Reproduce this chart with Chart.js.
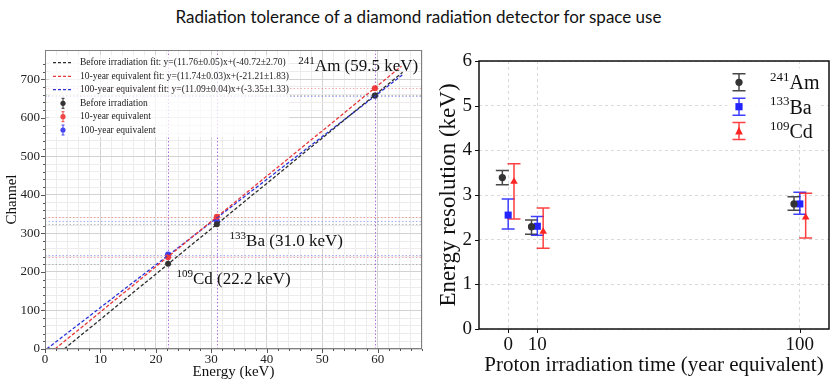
<!DOCTYPE html>
<html><head><meta charset="utf-8">
<script src="https://cdn.jsdelivr.net/npm/chart.js@4.4.1/dist/chart.umd.min.js"></script>
<style>
html,body{margin:0;padding:0;background:#fff;width:837px;height:388px;overflow:hidden}
#title{position:absolute;left:0;top:6px;width:837px;text-align:center;font:17px Lato, "Noto Sans", sans-serif;color:#111}
#c1{position:absolute;left:0;top:0}
#c2{position:absolute;left:430px;top:0}
</style></head><body>
<div id="title">Radiation tolerance of a diamond radiation detector for space use</div>
<canvas id="c1" width="430" height="388"></canvas>
<canvas id="c2" width="407" height="388"></canvas>
<script>
// ================= LEFT PANEL DATA =================
const isoMass    = ['109', '133', '241'];
const isoSymbol  = ['Cd', 'Ba', 'Am'];
const calibEnergies = [22.2, 31.0, 59.5];          // keV
const channelBefore = [221, 324, 658];
const channel10yr   = [238, 343, 677];
const channel100yr  = [245, 333, 657];
// fitted lines, read as two end points each (x keV, y channel)
const fitBeforeX = [3.46, 64.5], fitBeforeY = [0, 718];
const fit10yrX   = [1.81, 64.3], fit10yrY   = [0, 734];
const fit100yrX  = [0.30, 64.7], fit100yrY  = [0, 714];
const fitLabels = [
  'Before irradiation fit: y=(11.76\u00b10.05)x+(-40.72\u00b12.70)',
  '10-year equivalent fit: y=(11.74\u00b10.03)x+(-21.21\u00b11.83)',
  '100-year equivalent fit: y=(11.09\u00b10.04)x+(-3.35\u00b11.33)'
];
const pointLabels = ['Before irradiation', '10-year equivalent', '100-year equivalent'];
const energyMax = 68, channelMax = 776;

// ================= RIGHT PANEL DATA =================
const years = [0, 10, 100];
const yearTicks = [0, 10, 100];
const resAm     = [3.39, 2.29, 2.80];
const resAmLow  = [3.23, 2.12, 2.66];
const resAmHigh = [3.55, 2.44, 2.96];
const resBa     = [2.55, 2.30, 2.80];
const resBaLow  = [2.24, 2.10, 2.57];
const resBaHigh = [2.91, 2.52, 3.06];
const resCd     = [3.30, 2.18, 2.50];
const resCdLow  = [2.46, 1.81, 2.04];
const resCdHigh = [3.70, 2.71, 3.04];

// ================= STYLES =================
const serif = '"Liberation Serif", "Times New Roman", serif';
const cBlack = '#2e2e2e', cRed = '#e8363a', cBlue = '#2a32d8';
function pts(xs, ys) { return xs.map((x, i) => ({x: x, y: ys[i]})); }

function drawSup(ctx, x, y, sup, main, supSize, mainSize, color) {
  ctx.save();
  ctx.fillStyle = color; ctx.textBaseline = 'alphabetic'; ctx.textAlign = 'left';
  ctx.font = supSize + 'px ' + serif;
  ctx.fillText(sup, x, y - mainSize * 0.42);
  const w = ctx.measureText(sup).width;
  ctx.font = mainSize + 'px ' + serif;
  ctx.fillText(main, x + w, y);
  ctx.restore();
}

// ---------- left plugin ----------
const leftDecor = {
  id: 'leftDecor',
  beforeDatasetsDraw(chart) {
    const {ctx, chartArea: a, scales: {x, y}} = chart;
    ctx.save();
    ctx.lineWidth = 1;
    ctx.setLineDash([1.5, 2]);
    const hl = [[channelBefore, 'rgba(110,110,110,0.45)'], [channel10yr, 'rgba(240,70,70,0.45)'], [channel100yr, 'rgba(70,70,240,0.45)']];
    hl.forEach(([arr, col]) => {
      ctx.strokeStyle = col;
      arr.forEach(v => { const py = Math.round(y.getPixelForValue(v)) + 0.5; ctx.beginPath(); ctx.moveTo(a.left, py); ctx.lineTo(a.right, py); ctx.stroke(); });
    });
    ctx.strokeStyle = 'rgba(150,70,210,0.75)';
    calibEnergies.forEach(e => { const px = Math.round(x.getPixelForValue(e)) + 0.5; ctx.beginPath(); ctx.moveTo(px, a.top); ctx.lineTo(px, a.bottom); ctx.stroke(); });
    ctx.restore();
  },
  afterDraw(chart) {
    const {ctx, chartArea: a, scales: {x, y}} = chart;
    ctx.save();
    // frame
    ctx.strokeStyle = '#808080'; ctx.lineWidth = 1; ctx.setLineDash([]);
    ctx.strokeRect(a.left + 0.5, a.top + 0.5, a.right - a.left - 1, a.bottom - a.top - 1);
    // ticks
    ctx.strokeStyle = '#555';
    x.ticks.forEach(t => { const px = Math.round(x.getPixelForValue(t.value)) + 0.5; const L = t.value % 10 === 0 ? 4 : 2; ctx.beginPath(); ctx.moveTo(px, a.bottom); ctx.lineTo(px, a.bottom + L); ctx.stroke(); });
    y.ticks.forEach(t => { if (t.value > channelMax - 1) return; const py = Math.round(y.getPixelForValue(t.value)) + 0.5; const L = t.value % 100 === 0 ? 4 : 2; ctx.beginPath(); ctx.moveTo(a.left, py); ctx.lineTo(a.left - L, py); ctx.stroke(); });
    // annotations
    const ann = [[23.7, 169], [33.3, 267], [45.7, 722]];
    ann.forEach((p, i) => {
      drawSup(ctx, x.getPixelForValue(p[0]), y.getPixelForValue(p[1]), isoMass[i], isoSymbol[i] + ' (' + calibEnergies[i].toFixed(1) + ' keV)', 11, 17, '#111');
    });
    // legend
    ctx.fillStyle = 'rgba(255,255,255,0.75)';
    ctx.fillRect(49, 55, 240, 82);
    const rows = [62.7, 76.3, 89.7, 103.3, 116.7, 130];
    const cols = [cBlack, cRed, cBlue];
    ctx.font = '9.5px ' + serif; ctx.textBaseline = 'middle'; ctx.textAlign = 'left';
    for (let i = 0; i < 3; i++) {
      ctx.strokeStyle = cols[i]; ctx.lineWidth = 1.2; ctx.setLineDash([3, 2]);
      ctx.beginPath(); ctx.moveTo(53, rows[i]); ctx.lineTo(72, rows[i]); ctx.stroke();
      ctx.setLineDash([]);
      ctx.fillStyle = '#222'; ctx.fillText(fitLabels[i], 80, rows[i]);
    }
    const pcols = ['#333', '#f04646', '#4646f0'];
    for (let i = 0; i < 3; i++) {
      const ry = rows[3 + i];
      ctx.strokeStyle = pcols[i]; ctx.lineWidth = 1; ctx.setLineDash([]);
      ctx.beginPath(); ctx.moveTo(63, ry - 5); ctx.lineTo(63, ry + 5); ctx.moveTo(61.5, ry - 5); ctx.lineTo(64.5, ry - 5); ctx.moveTo(61.5, ry + 5); ctx.lineTo(64.5, ry + 5); ctx.stroke();
      ctx.fillStyle = pcols[i]; ctx.beginPath(); ctx.arc(63, ry, 2.6, 0, Math.PI * 2); ctx.fill();
      ctx.fillStyle = '#222'; ctx.fillText(pointLabels[i], 80, ry);
    }
    ctx.restore();
  }
};

new Chart(document.getElementById('c1'), {
  type: 'scatter',
  data: { datasets: [
    {type: 'line', data: pts(fitBeforeX, fitBeforeY), borderColor: cBlack, borderDash: [3.5, 2], borderWidth: 1.3, pointRadius: 0, fill: false},
    {type: 'line', data: pts(fit10yrX, fit10yrY), borderColor: cRed, borderDash: [3.5, 2], borderWidth: 1.3, pointRadius: 0, fill: false},
    {type: 'line', data: pts(fit100yrX, fit100yrY), borderColor: cBlue, borderDash: [3.5, 2], borderWidth: 1.3, pointRadius: 0, fill: false},
    {data: pts(calibEnergies, channelBefore), backgroundColor: '#333', borderColor: '#333', pointRadius: 3, borderWidth: 0},
    {data: pts(calibEnergies, channel10yr), backgroundColor: '#f03c3c', borderColor: '#f03c3c', pointRadius: 3, borderWidth: 0},
    {data: pts(calibEnergies, channel100yr), backgroundColor: '#3c3cf0', borderColor: '#3c3cf0', pointRadius: 3, borderWidth: 0}
  ]},
  options: {
    responsive: false, animation: false, devicePixelRatio: 1,
    layout: {padding: {left: 0, top: 50, right: 8, bottom: 0}},
    plugins: {legend: {display: false}, tooltip: {enabled: false}},
    scales: {
      x: {
        type: 'linear', min: 0, max: energyMax,
        afterFit: s => { s.height = 39; },
        ticks: {stepSize: 2, autoSkip: false, maxRotation: 0, padding: 3, color: '#222', font: {family: serif, size: 13},
                callback: v => (v % 10 === 0 ? v : '')},
        grid: {drawTicks: false, color: c => (c.tick && c.tick.value % 10 === 0 ? '#d2d2d2' : '#ececec')},
        border: {display: false},
        title: {display: true, text: 'Energy (keV)', color: '#111', font: {family: serif, size: 15}, padding: {top: 0, bottom: 7}}
      },
      y: {
        type: 'linear', min: 0, max: channelMax,
        afterFit: s => { s.width = 45; },
        ticks: {stepSize: 20, autoSkip: false, padding: 5, color: '#222', font: {family: serif, size: 13},
                callback: v => (v % 100 === 0 ? v : '')},
        grid: {drawTicks: false, color: c => (c.tick && c.tick.value % 100 === 0 ? '#d2d2d2' : '#ececec')},
        border: {display: false},
        title: {display: true, text: 'Channel', color: '#111', font: {family: serif, size: 15}, padding: {top: 3, bottom: 0}}
      }
    }
  },
  plugins: [leftDecor]
});

// ---------- right plugin ----------
const dodge = [-2, 0, 2];
const rSeries = [
  {v: resAm, lo: resAmLow, hi: resAmHigh, bar: 'rgba(40,40,40,0.85)', mark: '#333', style: 'circle', sup: '241', sym: 'Am'},
  {v: resBa, lo: resBaLow, hi: resBaHigh, bar: 'rgba(30,30,255,0.85)', mark: '#2424ff', style: 'rect', sup: '133', sym: 'Ba'},
  {v: resCd, lo: resCdLow, hi: resCdHigh, bar: 'rgba(255,30,30,0.85)', mark: '#ff2424', style: 'triangle', sup: '109', sym: 'Cd'}
];
function marker(ctx, style, cx, cy, color) {
  ctx.fillStyle = color; ctx.beginPath();
  if (style === 'circle') ctx.arc(cx, cy, 3.6, 0, Math.PI * 2);
  else if (style === 'rect') ctx.rect(cx - 3.6, cy - 3.6, 7.2, 7.2);
  else { ctx.moveTo(cx, cy - 4.2); ctx.lineTo(cx - 3.8, cy + 3.4); ctx.lineTo(cx + 3.8, cy + 3.4); ctx.closePath(); }
  ctx.fill();
}
const rightDecor = {
  id: 'rightDecor',
  beforeDatasetsDraw(chart) {
    const {ctx, scales: {x, y}} = chart;
    ctx.save(); ctx.lineWidth = 1.5; ctx.setLineDash([]);
    rSeries.forEach((s, si) => {
      ctx.strokeStyle = s.bar;
      years.forEach((yr, i) => {
        const px = x.getPixelForValue(yr + dodge[si]);
        const p1 = y.getPixelForValue(s.lo[i]), p2 = y.getPixelForValue(s.hi[i]);
        ctx.beginPath(); ctx.moveTo(px, p1); ctx.lineTo(px, p2);
        ctx.moveTo(px - 6.5, p1); ctx.lineTo(px + 6.5, p1);
        ctx.moveTo(px - 6.5, p2); ctx.lineTo(px + 6.5, p2); ctx.stroke();
      });
    });
    ctx.restore();
  },
  afterDraw(chart) {
    const {ctx, chartArea: a, scales: {x, y}} = chart;
    ctx.save();
    ctx.strokeStyle = '#111'; ctx.lineWidth = 1.5; ctx.setLineDash([]);
    ctx.strokeRect(a.left, a.top, a.right - a.left, a.bottom - a.top);
    ctx.lineWidth = 1;
    x.ticks.forEach(t => { const px = Math.round(x.getPixelForValue(t.value)) + 0.5; ctx.beginPath(); ctx.moveTo(px, a.bottom); ctx.lineTo(px, a.bottom + 4); ctx.stroke(); });
    y.ticks.forEach(t => { const py = Math.round(y.getPixelForValue(t.value)) + 0.5; ctx.beginPath(); ctx.moveTo(a.left, py); ctx.lineTo(a.left - 4, py); ctx.stroke(); });
    // legend
    ctx.fillStyle = 'rgba(255,255,255,0.85)';
    ctx.fillRect(297, 68, 92, 76);
    const rows = [82.3, 106.7, 131];
    rSeries.forEach((s, i) => {
      const cx = 309, cy = rows[i];
      ctx.strokeStyle = s.bar; ctx.lineWidth = 1.5;
      ctx.beginPath(); ctx.moveTo(cx, cy - 8.5); ctx.lineTo(cx, cy + 8.5);
      ctx.moveTo(cx - 6.5, cy - 8.5); ctx.lineTo(cx + 6.5, cy - 8.5);
      ctx.moveTo(cx - 6.5, cy + 8.5); ctx.lineTo(cx + 6.5, cy + 8.5); ctx.stroke();
      marker(ctx, s.style, cx, cy, s.mark);
      drawSup(ctx, 340, cy + 7, s.sup, s.sym, 13, 20, '#111');
    });
    ctx.restore();
  }
};

new Chart(document.getElementById('c2'), {
  type: 'scatter',
  data: { datasets: rSeries.map((s, si) => ({
    data: years.map((yr, i) => ({x: yr + dodge[si], y: s.v[i]})),
    pointStyle: s.style, backgroundColor: s.mark, borderColor: s.mark, borderWidth: 0,
    pointRadius: s.style === 'rect' ? 5 : (s.style === 'triangle' ? 4.4 : 3.6)
  }))},
  options: {
    responsive: false, animation: false, devicePixelRatio: 1,
    layout: {padding: {left: 0, top: 61, right: 8, bottom: 0}},
    plugins: {legend: {display: false}, tooltip: {enabled: false}},
    scales: {
      x: {
        type: 'linear', min: -10, max: 110,
        afterFit: s => { s.height = 59; },
        afterBuildTicks: s => { s.ticks = yearTicks.map(v => ({value: v})); },
        ticks: {autoSkip: false, maxRotation: 0, padding: 5, color: '#111', font: {family: serif, size: 19}},
        grid: {drawTicks: false, color: '#d9d9d9'},
        border: {display: false, dash: [3, 3]},
        title: {display: true, text: 'Proton irradiation time (year equivalent)', color: '#111', font: {family: serif, size: 21}, padding: {top: 0, bottom: 10}}
      },
      y: {
        type: 'linear', min: 0, max: 6,
        afterFit: s => { s.width = 49; },
        ticks: {stepSize: 1, padding: 7, color: '#111', font: {family: serif, size: 19}},
        grid: {drawTicks: false, color: '#d9d9d9'},
        border: {display: false, dash: [3, 3]},
        title: {display: true, text: 'Energy resolution (keV)', color: '#111', font: {family: serif, size: 23}, padding: {top: 5, bottom: 0}}
      }
    }
  },
  plugins: [rightDecor]
});
</script>
</body></html>
